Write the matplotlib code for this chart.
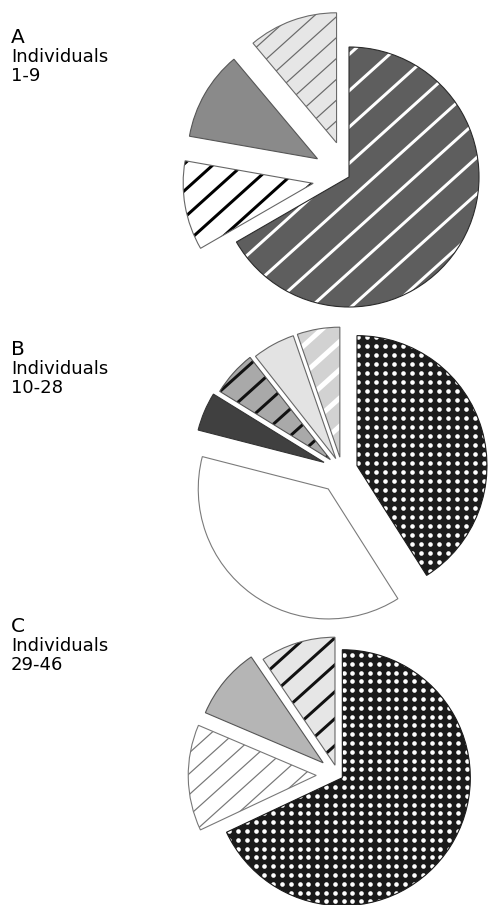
import numpy as np
import matplotlib
matplotlib.use('Agg')
import matplotlib.pyplot as plt
from matplotlib.collections import LineCollection
from matplotlib.patches import PathPatch

# ---- data (shares of each pie, clockwise from 12 o'clock) ----
a_values = [6, 1, 1, 1]
b_values = [41, 38, 4.8, 5.6, 5.3, 5.3]
c_values = [68, 13.4, 9.1, 9.5]
panel_letters = ['A', 'B', 'C']
panel_ranges = ['1-9', '10-28', '29-46']

# ---- styles: (face, edge, pattern) ----
# pattern: None | ('lines', spacing_px, width_px, color) | ('dots', spacing_px, diam_px, color)
a_styles = [('#5e5e5e', '#2a2a2a', ('lines', 27, 3.0, 'white')),
            ('white', '#666666', ('lines', 20, 3.0, 'black')),
            ('#8a8a8a', '#555555', None),
            ('#e6e6e6', '#6a6a6a', ('lines', 15.5, 1.2, '#6a6a6a'))]
b_styles = [('#1c1c1c', '#1c1c1c', ('dots', 9, 4.6, 'white')),
            ('white', '#7a7a7a', None),
            ('#404040', '#333333', None),
            ('#a9a9a9', '#555555', ('lines', 20, 3.0, '#111111')),
            ('#e3e3e3', '#666666', None),
            ('#d2d2d2', '#666666', ('lines', 21, 5.0, 'white'))]
c_styles = [('#1a1a1a', '#1a1a1a', ('dots', 8.8, 4.6, 'white')),
            ('white', '#777777', ('lines', 15.5, 1.2, '#777777')),
            ('#b5b5b5', '#555555', None),
            ('#e6e6e6', '#666666', ('lines', 20, 3.0, '#111111'))]

# explode as a fraction of the radius
a_explode = [0.0, 0.28, 0.28, 0.28]
b_explode = [0.12, 0.18, 0.15, 0.12, 0.1, 0.1]
c_explode = [0.04, 0.17, 0.15, 0.08]

W, H = 488, 905
PT = 0.72  # points per pixel at dpi 100

fig = plt.figure(figsize=(W / 100, H / 100), dpi=100)
ax = fig.add_axes([0, 0, 1, 1])


def add_lines(ax, w, cx, cy, r, spacing, width, color, ang=42):
    a = np.deg2rad(ang)
    d = np.array([np.cos(a), np.sin(a)])
    n = np.array([-np.sin(a), np.cos(a)])
    L = 2 * r
    segs = []
    for o in np.arange(-L, L + spacing, spacing):
        p = np.array([cx, cy]) + o * n
        segs.append([p - L * d, p + L * d])
    lc = LineCollection(segs, colors=color, linewidths=width * PT, zorder=2)
    ax.add_collection(lc)
    lc.set_clip_path(w)


def add_dots(ax, w, cx, cy, r, spacing, diam, color):
    g = np.arange(-1.4 * r, 1.4 * r, spacing)
    gx, gy = np.meshgrid(cx + g, cy + g)
    sc = ax.scatter(gx.ravel(), gy.ravel(), s=(diam * PT) ** 2, c=color,
                    linewidths=0, zorder=2)
    sc.set_clip_path(w)


def draw_pie(ax, values, styles, explode, cx, cy, r):
    wedges, _ = ax.pie(values, startangle=90, counterclock=False,
                       center=(cx, cy), radius=r,
                       explode=[e * r for e in explode],
                       colors=[s[0] for s in styles],
                       wedgeprops=dict(linewidth=0))
    for w, (face, edge, pat) in zip(wedges, styles):
        w.set_zorder(1)
        if pat is not None:
            if pat[0] == 'lines':
                add_lines(ax, w, cx, cy, r, pat[1], pat[2], pat[3])
            else:
                add_dots(ax, w, cx, cy, r, pat[1], pat[2], pat[3])
        ax.add_patch(PathPatch(w.get_path(), facecolor='none', edgecolor=edge,
                               linewidth=1.1 * PT, zorder=3))


draw_pie(ax, a_values, a_styles, a_explode, 349, H - 177, 130)
draw_pie(ax, b_values, b_styles, b_explode, 342, H - 470, 130)
draw_pie(ax, c_values, c_styles, c_explode, 338, H - 775, 128)

ax.set_xlim(0, W)
ax.set_ylim(0, H)
ax.set_aspect('auto')
ax.axis('off')

# panel labels
label_y = [43, 355, 632]
for letter, rng, y0 in zip(panel_letters, panel_ranges, label_y):
    fig.text(11 / W, 1 - y0 / H, letter, fontsize=14.5, family='DejaVu Sans',
             va='baseline', ha='left')
    fig.text(11 / W, 1 - (y0 + 19) / H, 'Individuals', fontsize=13,
             family='DejaVu Sans', va='baseline', ha='left')
    fig.text(11 / W, 1 - (y0 + 38) / H, rng, fontsize=13,
             family='DejaVu Sans', va='baseline', ha='left')

fig.savefig('out.png', dpi=100)
